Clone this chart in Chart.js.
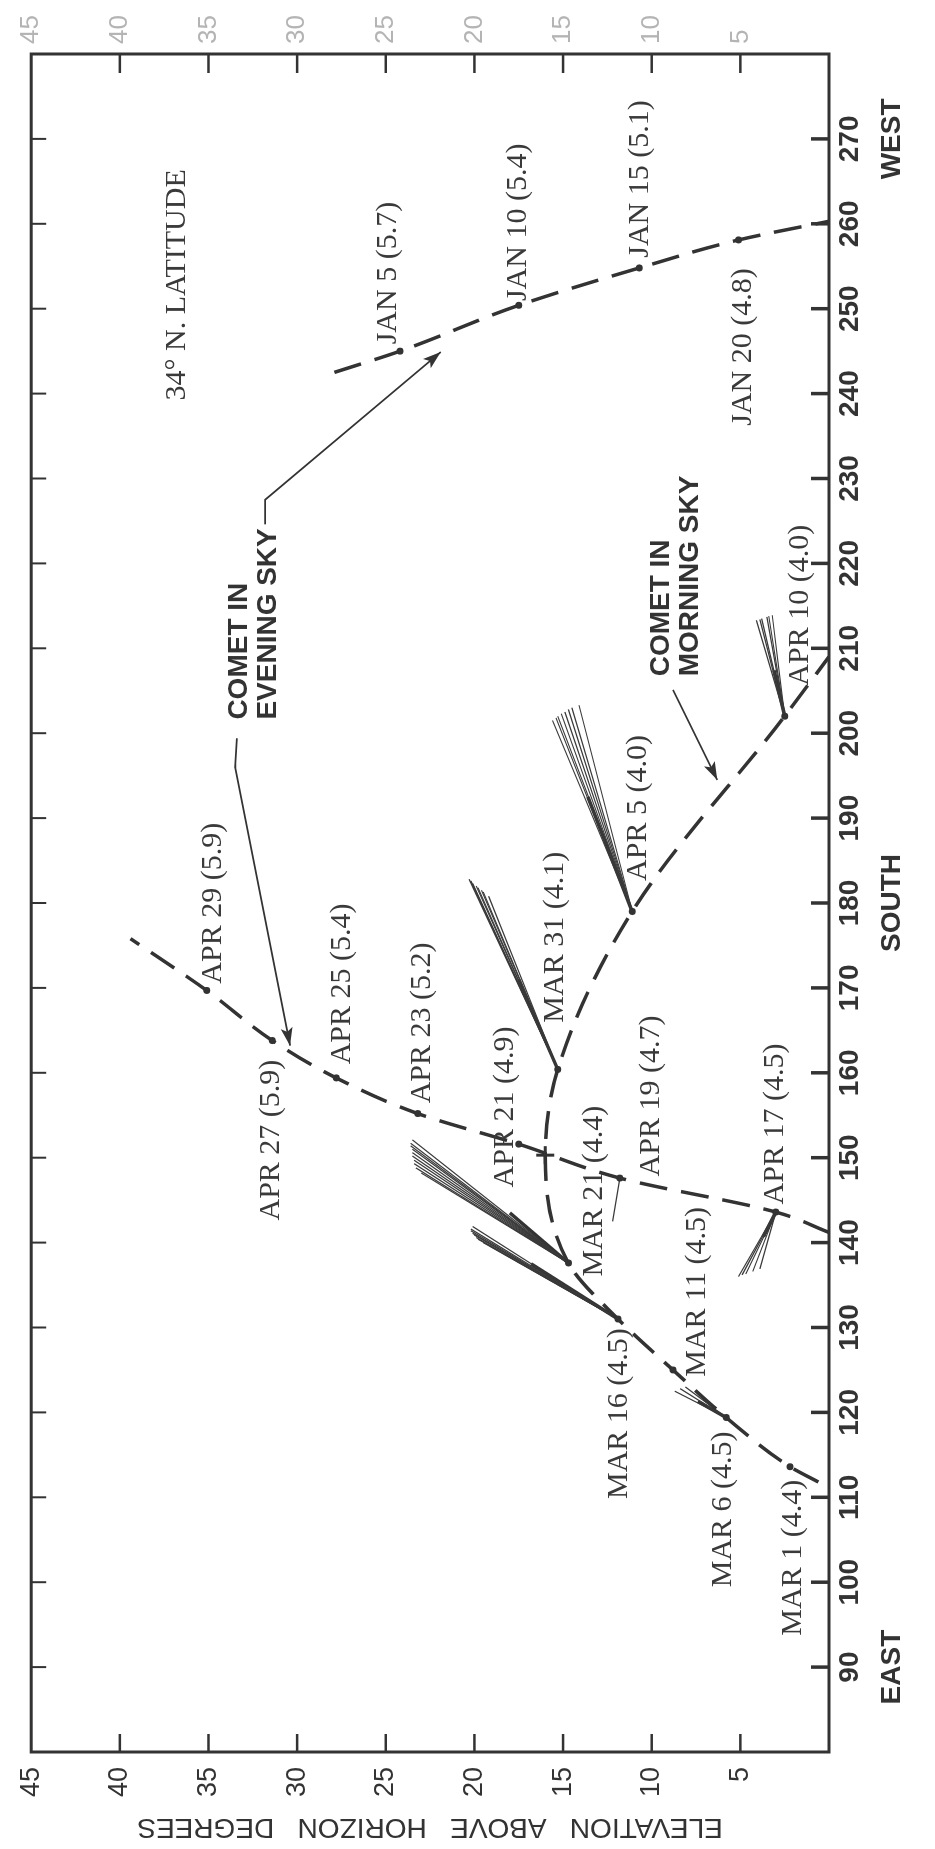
<!DOCTYPE html>
<html>
<head>
<meta charset="utf-8">
<script src="https://cdn.jsdelivr.net/npm/chart.js@4.4.1/dist/chart.umd.min.js"></script>
<style>
  html, body { margin: 0; padding: 0; background: #fff; overflow: hidden; }
  body { width: 935px; height: 1849px; position: relative; }
  /* the printed chart is turned a quarter turn, so draw it flat and rotate it */
  #turn { position: absolute; left: 0; top: 0; width: 1849px; height: 935px;
          transform-origin: 0 0; transform: translateY(1849px) rotate(-90deg); }
</style>
</head>
<body>
<div id="turn"><canvas id="sky" width="1849" height="935"></canvas></div>
<script>
const azTicks = [90, 100, 110, 120, 130, 140, 150, 160, 170, 180, 190, 200, 210, 220, 230, 240, 250, 260, 270];
const compass = { 90: 'EAST', 180: 'SOUTH', 270: 'WEST' };
const elTicks = [5, 10, 15, 20, 25, 30, 35, 40, 45];

// comet track, January (evening sky)
const janAz = [242.5, 245.0, 250.4, 254.8, 258.1, 260.3];
const janEl = [27.9, 24.2, 17.5, 10.7, 5.1, 0.0];
const janMark = ['', 'dot', 'dot', 'dot', 'dot', ''];

// March - early April (morning sky)
const marAz = [111.8, 113.6, 119.4, 125.0, 131.0, 137.6, 150.3, 160.4, 179.0, 202.0, 209.0];
const marEl = [0.6, 2.2, 5.8, 8.8, 11.9, 14.7, 16.0, 15.3, 11.1, 2.5, 0.0];
const marMark = ['', 'dot', 'dot', 'dot', 'dot', 'dot', 'cross', 'dot', 'dot', 'dot', ''];

// late April (evening sky)
const aprAz = [141.2, 143.6, 147.6, 151.6, 155.2, 159.4, 163.8, 169.7, 175.8];
const aprEl = [0.0, 3.0, 11.8, 17.5, 23.2, 27.8, 31.4, 35.1, 39.4];
const aprMark = ['', 'dot', 'dot', 'dot', 'dot', 'dot', 'dot', 'dot', ''];

// tails: head, thick core end, thin fan ends  [azimuth, elevation]
const tailHeads = [[119.4, 5.8], [131.0, 11.9], [137.6, 14.7], [160.4, 15.3], [179.0, 11.1], [202.0, 2.5], [143.6, 3.0], [147.6, 11.8]];
const tailCores = [[121.3, 7.4], [137.5, 16.8], [143.5, 18.0], [171.0, 17.5], [192.5, 13.6], [207.4, 3.1], [140.7, 3.7], null];
const tailEnds = [
  [[122.5, 8.7], [122.8, 8.4], [123.0, 8.1]],
  [[141.9, 20.1], [141.6, 20.2], [141.4, 20.2], [141.1, 20.1], [140.9, 20.0], [140.6, 19.9], [140.4, 19.8], [140.0, 19.5]],
  [[152.1, 23.5], [151.7, 23.6], [151.4, 23.6], [151.0, 23.5], [150.6, 23.5], [150.2, 23.5],
   [149.7, 23.4], [149.3, 23.4], [148.8, 23.3], [148.2, 23.0]],
  [[182.8, 20.3], [182.6, 20.2], [182.3, 20.1], [182.0, 19.9], [181.8, 19.8], [181.5, 19.6], [181.3, 19.5], [180.8, 19.2]],
  [[201.5, 15.6], [201.8, 15.4], [202.0, 15.3], [202.3, 15.1], [202.5, 14.9], [202.8, 14.7], [203.0, 14.5], [203.3, 14.1]],
  [[213.3, 4.1], [213.4, 3.9], [213.5, 3.8], [213.7, 3.5], [213.8, 3.4], [213.9, 3.2]],
  [[136.0, 5.1], [136.2, 4.9], [136.3, 4.7], [136.6, 4.3], [136.9, 3.9]],
  [[142.5, 12.2]]
];

// date labels: text starts at azimuth, baseline at elevation
const dateText = ['MAR 1 (4.4)', 'MAR 6 (4.5)', 'MAR 11 (4.5)', 'MAR 16 (4.5)', 'MAR 21 (4.4)', 'MAR 31 (4.1)',
  'APR 5 (4.0)', 'APR 10 (4.0)', 'APR 17 (4.5)', 'APR 19 (4.7)', 'APR 21 (4.9)', 'APR 23 (5.2)',
  'APR 25 (5.4)', 'APR 27 (5.9)', 'APR 29 (5.9)', 'JAN 5 (5.7)', 'JAN 10 (5.4)', 'JAN 15 (5.1)',
  'JAN 20 (4.8)', '34° N. LATITUDE'];
const dateAz = [93.7, 99.4, 124.2, 109.8, 136.0, 165.9, 182.6, 205.6, 144.5, 147.8, 146.5, 156.4,
  161.0, 142.6, 170.5, 245.8, 250.9, 256.0, 236.2, 239.2];
const dateEl = [1.6, 5.5, 7.0, 11.4, 12.8, 15.0, 10.3, 1.2, 2.6, 9.6, 17.8, 22.5,
  27.0, 31.0, 34.3, 24.4, 17.1, 10.2, 4.4, 36.3];

const noteText = [['COMET IN', 'EVENING SKY'], ['COMET IN', 'MORNING SKY']];
const noteAz = [201.6, 206.7];
const noteEl = [32.8, 9.0];

const arrows = [
  [[199.4, 33.4], [196.0, 33.5], [163.2, 30.4]],
  [[224.6, 31.8], [227.5, 31.8], [244.9, 21.9]],
  [[205.1, 8.8], [194.5, 6.3]]
];

const ink = '#333';

function track(az, el, marks) {
  return {
    data: az.map((v, i) => ({ x: v, y: el[i] })),
    borderColor: ink,
    borderWidth: 3.5,
    borderDash: [28, 14],
    cubicInterpolationMode: 'monotone',
    pointRadius: marks.map(m => m === 'dot' ? 3.5 : m === 'cross' ? 9 : 0),
    pointStyle: marks.map(m => m === 'cross' ? 'cross' : 'circle'),
    pointBorderWidth: marks.map(m => m === 'cross' ? 3 : 0),
    pointBackgroundColor: ink,
    pointBorderColor: ink
  };
}

const datasets = [track(janAz, janEl, janMark), track(marAz, marEl, marMark), track(aprAz, aprEl, aprMark)];
tailHeads.forEach((h, i) => {
  tailEnds[i].forEach(e => datasets.push({
    data: [{ x: h[0], y: h[1] }, { x: e[0], y: e[1] }],
    borderColor: '#3a3a3a', borderWidth: 1.2, pointRadius: 0
  }));
  if (tailCores[i]) datasets.push({
    data: [{ x: h[0], y: h[1] }, { x: tailCores[i][0], y: tailCores[i][1] }],
    borderColor: ink, borderWidth: 3.5, pointRadius: 0
  });
});

const decor = {
  id: 'decor',
  afterDatasetsDraw(chart) {
    const { ctx, chartArea: a, scales: { x, y } } = chart;
    const seg = (x1, y1, x2, y2) => { ctx.beginPath(); ctx.moveTo(x1, y1); ctx.lineTo(x2, y2); ctx.stroke(); };
    ctx.save();
    ctx.strokeStyle = ink;
    ctx.fillStyle = ink;
    ctx.lineWidth = 3;
    ctx.strokeRect(a.left, a.top, a.right - a.left, a.bottom - a.top);

    // inward tick marks on all four sides
    azTicks.forEach(v => {
      const px = x.getPixelForValue(v);
      ctx.lineWidth = 3.5; seg(px, a.bottom, px, a.bottom - 18);
      ctx.lineWidth = 2; seg(px, a.top, px, a.top + 15);
    });
    elTicks.forEach(v => {
      if (v >= 45) return;
      const py = y.getPixelForValue(v);
      ctx.lineWidth = 2.5;
      seg(a.left, py, a.left + 18, py);
      seg(a.right, py, a.right - 19, py);
    });

    // date / magnitude labels
    ctx.font = '30px "Liberation Serif"';
    ctx.fillStyle = '#3a3a3a';
    ctx.textAlign = 'left';
    ctx.textBaseline = 'alphabetic';
    dateText.forEach((t, i) => ctx.fillText(t, x.getPixelForValue(dateAz[i]), y.getPixelForValue(dateEl[i])));

    ctx.font = 'bold 28px "Liberation Sans"';
    ctx.fillStyle = ink;
    noteText.forEach((lines, i) => {
      lines.forEach((t, k) => ctx.fillText(t, x.getPixelForValue(noteAz[i]), y.getPixelForValue(noteEl[i] - k * 1.6)));
    });

    // pointer arrows
    ctx.lineWidth = 1.8;
    arrows.forEach(path => {
      const pts = path.map(p => [x.getPixelForValue(p[0]), y.getPixelForValue(p[1])]);
      ctx.beginPath();
      pts.forEach((p, k) => k ? ctx.lineTo(p[0], p[1]) : ctx.moveTo(p[0], p[1]));
      ctx.stroke();
      const [p0, p1] = pts.slice(-2);
      const ang = Math.atan2(p1[1] - p0[1], p1[0] - p0[0]);
      ctx.save();
      ctx.translate(p1[0], p1[1]);
      ctx.rotate(ang);
      ctx.beginPath();
      ctx.moveTo(0, 0); ctx.lineTo(-18, -6); ctx.lineTo(-14, 0); ctx.lineTo(-18, 6);
      ctx.closePath();
      ctx.fill();
      ctx.restore();
    });
    ctx.restore();
  }
};

new Chart(document.getElementById('sky'), {
  type: 'line',
  data: { datasets },
  options: {
    responsive: false,
    animation: false,
    layout: { padding: { top: 20, left: 0, right: 0, bottom: 0 } },
    plugins: { legend: { display: false }, tooltip: { enabled: false } },
    scales: {
      x: {
        type: 'linear', position: 'bottom', min: 80, max: 280,
        grid: { display: false, drawTicks: false },
        border: { display: false },
        ticks: {
          stepSize: 10, autoSkip: false, maxRotation: 0, minRotation: 0, padding: 0,
          color: ink, font: { family: 'Liberation Sans', size: 28, weight: 'bold', lineHeight: 1.5 },
          callback: v => (v < 90 || v > 270) ? '' : compass[v] ? [String(v), compass[v]] : String(v)
        },
        afterFit: s => { s.height = 106; }
      },
      y: {
        type: 'linear', position: 'left', min: 0, max: 45,
        grid: { display: false, drawTicks: false },
        border: { display: false },
        ticks: {
          stepSize: 5, padding: 15, color: ink,
          font: { family: 'Liberation Sans', size: 27 },
          callback: v => v === 0 ? '' : String(v)
        },
        title: {
          display: true, text: 'ELEVATION   ABOVE   HORIZON   DEGREES', color: ink,
          font: { family: 'Liberation Sans', size: 28 }, padding: { top: 5, bottom: 0 }
        },
        afterFit: s => { s.width = 97; }
      },
      y2: {
        type: 'linear', position: 'right', min: 0, max: 45,
        grid: { display: false, drawTicks: false },
        border: { display: false },
        ticks: {
          stepSize: 5, padding: 10, color: '#b4b4b4',
          font: { family: 'Liberation Sans', size: 26 },
          callback: v => v === 0 ? '' : String(v)
        },
        afterFit: s => { s.width = 54; }
      }
    }
  },
  plugins: [decor]
});
</script>
</body>
</html>
